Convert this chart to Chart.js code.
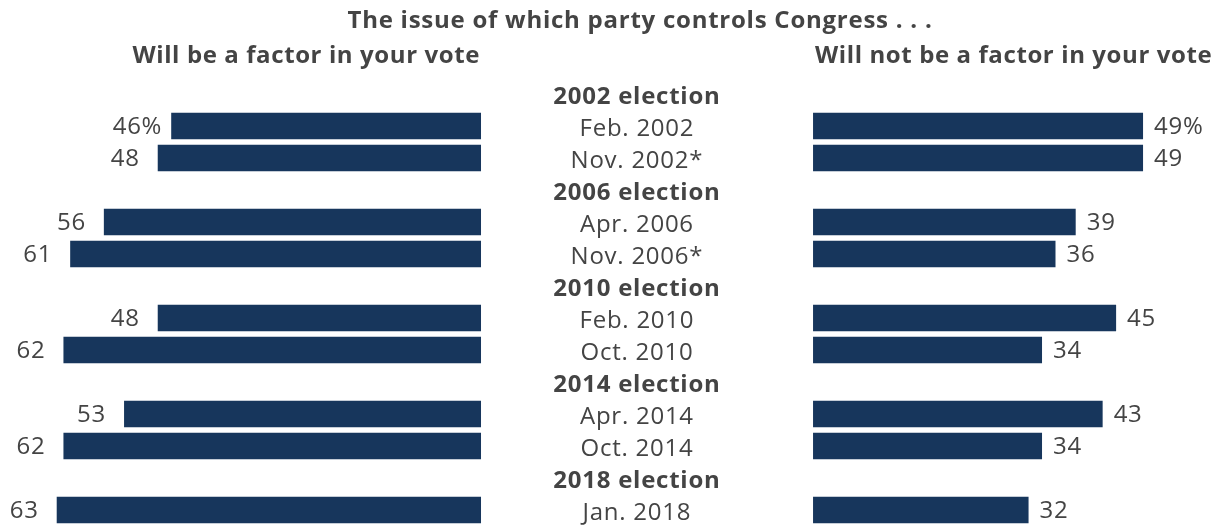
<!DOCTYPE html>
<html>
<head>
<meta charset="utf-8">
<title>Party control of Congress as a voting factor</title>
<script src="https://cdn.jsdelivr.net/npm/chart.js@4.4.1/dist/chart.umd.min.js"></script>
<style>
  html, body { margin: 0; padding: 0; background: #fff; }
</style>
</head>
<body>
<canvas id="chart" width="1217" height="527"></canvas>
<script>
// Survey rows, top to bottom. Rows ending in "election" are group headers.
const rowLabels = [
  "2002 election", "Feb. 2002", "Nov. 2002*",
  "2006 election", "Apr. 2006", "Nov. 2006*",
  "2010 election", "Feb. 2010", "Oct. 2010",
  "2014 election", "Apr. 2014", "Oct. 2014",
  "2018 election", "Jan. 2018"
];
// % saying party control will be a factor in their vote
const factorYes = [null, 46, 48, null, 56, 61, null, 48, 62, null, 53, 62, null, 63];
// % saying it will not be a factor
const factorNo = [null, 49, 49, null, 39, 36, null, 45, 34, null, 43, 34, null, 32];

const chartTitle = "The issue of which party controls Congress . . .";
const leftHeading = "Will be a factor in your vote";
const rightHeading = "Will not be a factor in your vote";

const BAR_COLOR = "#17365c";
const TEXT_COLOR = "#444444";
const FONT = "'Open Sans', Lato, sans-serif";
const FONT_SIZE = 24;
const GAP = 24.65;   // half width of the middle label column, in % units
const LABEL_X = -1.5; // where the row labels are centred, in % units

const isHeader = (label) => label.endsWith("election");
const firstValueRow = factorYes.findIndex((v) => v !== null);

// bars grow outwards from the edges of the middle column
const leftBars = factorYes.map((v) => (v === null ? null : [-GAP - v, -GAP]));
const rightBars = factorNo.map((v) => (v === null ? null : [GAP, GAP + v]));

const labelsPlugin = {
  id: "butterflyLabels",
  afterDatasetsDraw(chart) {
    const { ctx, scales } = chart;
    const x = scales.x;
    const y = scales.y;
    ctx.save();
    ctx.fillStyle = TEXT_COLOR;
    ctx.textBaseline = "alphabetic";

    // title and column headings
    ctx.font = "bold " + FONT_SIZE + "px " + FONT;
    ctx.letterSpacing = "0.75px";
    ctx.textAlign = "center";
    ctx.fillText(chartTitle, 640, 28);
    ctx.letterSpacing = "0.6px";
    ctx.textAlign = "right";
    ctx.fillText(leftHeading, x.getPixelForValue(-GAP) - 1, 63);
    ctx.textAlign = "left";
    ctx.fillText(rightHeading, x.getPixelForValue(GAP) + 2, 63);

    ctx.letterSpacing = "0.75px";
    rowLabels.forEach((label, i) => {
      const py = y.getPixelForValue(i);
      ctx.textAlign = "center";
      ctx.font = (isHeader(label) ? "bold " : "") + FONT_SIZE + "px " + FONT;
      ctx.fillText(label, x.getPixelForValue(LABEL_X), py + 9.5);

      ctx.font = FONT_SIZE + "px " + FONT;
      const pct = i === firstValueRow ? "%" : "";
      if (factorYes[i] !== null) {
        ctx.textAlign = "right";
        const edge = x.getPixelForValue(-GAP - factorYes[i]);
        ctx.fillText(factorYes[i] + pct, edge - (pct ? 9 : 18), py + 8);
      }
      if (factorNo[i] !== null) {
        ctx.textAlign = "left";
        const edge = x.getPixelForValue(GAP + factorNo[i]);
        ctx.fillText(factorNo[i] + pct, edge + 11, py + 8);
      }
    });
    ctx.restore();
  }
};

new Chart(document.getElementById("chart"), {
  type: "bar",
  data: {
    labels: rowLabels,
    datasets: [
      {
        label: leftHeading,
        data: leftBars,
        backgroundColor: BAR_COLOR,
        grouped: false
      },
      {
        label: rightHeading,
        data: rightBars,
        backgroundColor: BAR_COLOR,
        grouped: false
      }
    ]
  },
  options: {
    indexAxis: "y",
    responsive: false,
    devicePixelRatio: 1,
    animation: false,
    barPercentage: 0.83,
    categoryPercentage: 1,
    layout: { padding: { top: 78, bottom: 1, left: 0, right: 0 } },
    scales: {
      x: { type: "linear", min: -96.07, max: 84.63, display: false },
      y: { type: "category", display: false, offset: true }
    },
    plugins: {
      legend: { display: false },
      tooltip: { enabled: false },
      title: { display: false }
    }
  },
  plugins: [labelsPlugin]
});
</script>
</body>
</html>
